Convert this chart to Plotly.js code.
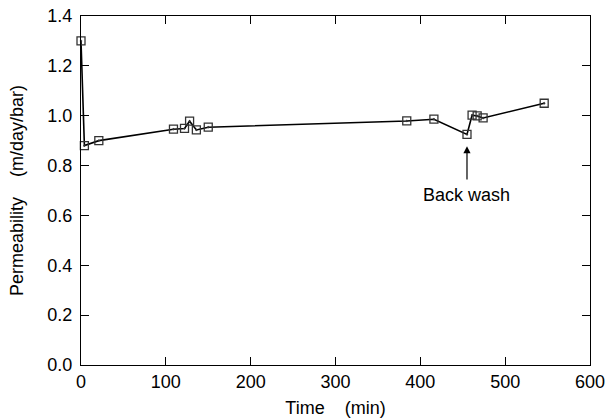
<!DOCTYPE html>
<html>
<head>
<meta charset="utf-8">
<script src="https://cdn.plot.ly/plotly-3.0.1.min.js"></script>
<style>html,body{margin:0;padding:0;background:#fff;}#chart{width:609px;height:418px;}</style>
</head>
<body>
<div id="chart"></div>
<script>
const timeMin = [0, 4, 21, 109, 122, 128, 136, 150, 384, 416, 455, 461, 467, 474, 546];
const permeability = [1.30, 0.88, 0.90, 0.946, 0.949, 0.978, 0.943, 0.954, 0.979, 0.986, 0.925, 1.002, 0.999, 0.991, 1.05];
const xTicks = [0, 100, 200, 300, 400, 500, 600];
const yTicks = [0.0, 0.2, 0.4, 0.6, 0.8, 1.0, 1.2, 1.4];
const annotationLabel = "Back wash";
const annotationTime = 455;
const arrowTip = 0.878;
const arrowTail = 0.738;
const textPos = 0.682;

const font = {family: "Liberation Sans, Arial, sans-serif", size: 18, color: "#000"};
const nb = "\u00A0";

const trace = {
  x: timeMin,
  y: permeability,
  mode: "lines+markers",
  line: {color: "#000", width: 1.6},
  marker: {symbol: "square-open-dot", size: 8, color: "#333", line: {width: 1.3, color: "#333"}},
  cliponaxis: false,
  showlegend: false
};

const axisCommon = {
  showline: true, linecolor: "#000", linewidth: 1.2, mirror: "allticks",
  ticks: "inside", ticklen: 8, tickwidth: 1, tickcolor: "#000",
  showgrid: false, zeroline: false, tickfont: font
};

const layout = {
  width: 609, height: 418,
  margin: {l: 81, r: 19, t: 16, b: 53},
  paper_bgcolor: "#fff", plot_bgcolor: "#fff",
  font: font,
  xaxis: Object.assign({}, axisCommon, {
    range: [0, 600], tickvals: xTicks, ticktext: xTicks.map(String),
    title: {text: "Time" + nb + nb + nb + nb + "(min)", font: font, standoff: 11}
  }),
  yaxis: Object.assign({}, axisCommon, {
    range: [0, 1.4], tickvals: yTicks, ticktext: yTicks.map(v => v.toFixed(1)),
    ticklabelstandoff: 4,
    title: {text: "Permeability" + nb + nb + nb + nb + "(m/day/bar)", font: font, standoff: 18}
  }),
  annotations: [
    {x: annotationTime, y: arrowTip, xref: "x", yref: "y", ax: annotationTime, ay: arrowTail,
     axref: "x", ayref: "y", text: "", showarrow: true, arrowhead: 2, arrowsize: 1.2, arrowwidth: 1.2, arrowcolor: "#000"},
    {x: annotationTime, y: textPos, xref: "x", yref: "y", text: annotationLabel, showarrow: false, font: font}
  ]
};

Plotly.newPlot("chart", [trace], layout, {staticPlot: true});
</script>
</body>
</html>
